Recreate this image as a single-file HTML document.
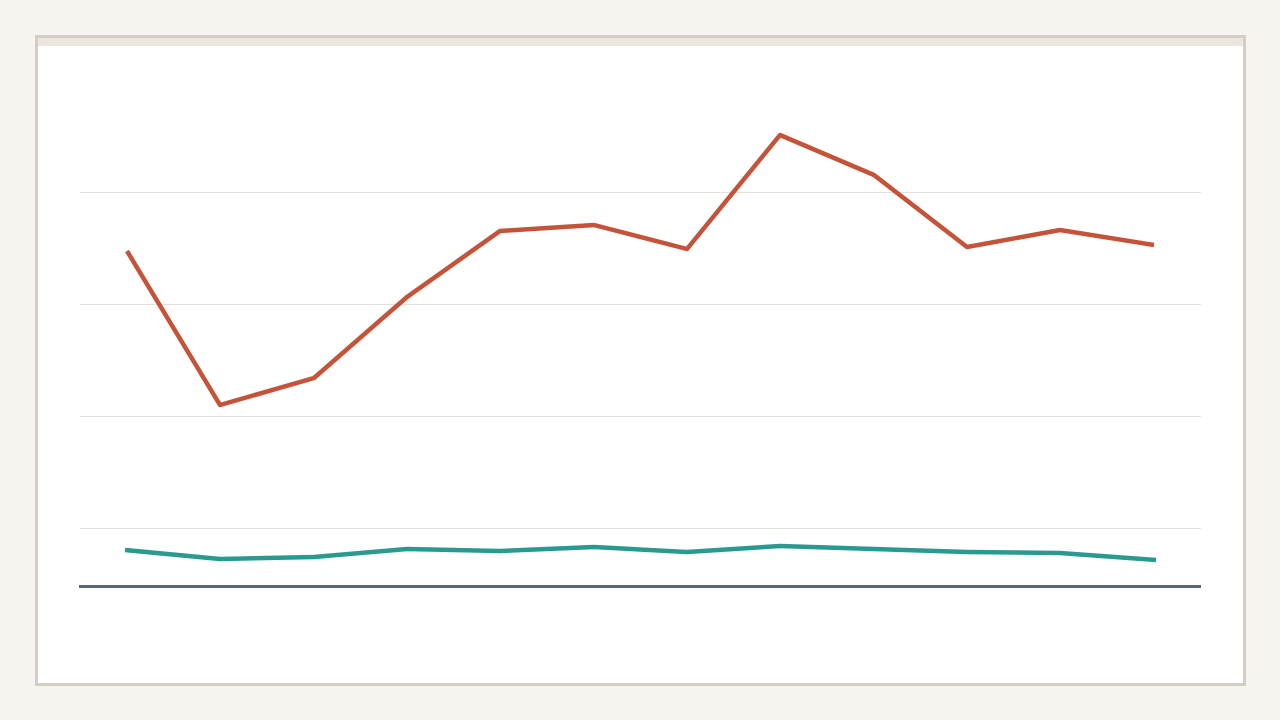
<!DOCTYPE html>
<html><head><style>
html,body{margin:0;padding:0;background:#f5f4ef;width:1280px;height:720px;overflow:hidden}
</style></head><body>
<svg width="1280" height="720" xmlns="http://www.w3.org/2000/svg" style="position:absolute;left:0;top:0">
<rect x="0" y="0" width="1280" height="720" fill="#f5f4ef"/>
<rect x="36.5" y="36.5" width="1208" height="648" fill="#ffffff" stroke="#d3cec4" stroke-width="3"/>
<rect x="38" y="38" width="1205" height="8" fill="#ebe7de"/>
<g stroke="#e5e3d9" stroke-width="1">
<line x1="80" y1="192.5" x2="1201" y2="192.5"/>
<line x1="80" y1="304.5" x2="1201" y2="304.5"/>
<line x1="80" y1="416.5" x2="1201" y2="416.5"/>
<line x1="80" y1="528.5" x2="1201" y2="528.5"/>
</g>
<line x1="79" y1="586.5" x2="1201" y2="586.5" stroke="#5a6472" stroke-width="3"/>
<polyline fill="none" stroke="#c4533a" stroke-width="4.5" stroke-linejoin="round" points="127,251 220,405 314,378 407,297 500,231 594,225 687,249 780,135 874,175 967,247 1060,230 1154,245"/>
<polyline fill="none" stroke="#2a9a90" stroke-width="4.5" stroke-linejoin="round" points="125,550 220,559 314,557 407,549 500,551 594,547 687,552 780,546 874,549 967,552 1060,553 1156,560"/>
</svg>
</body></html>
